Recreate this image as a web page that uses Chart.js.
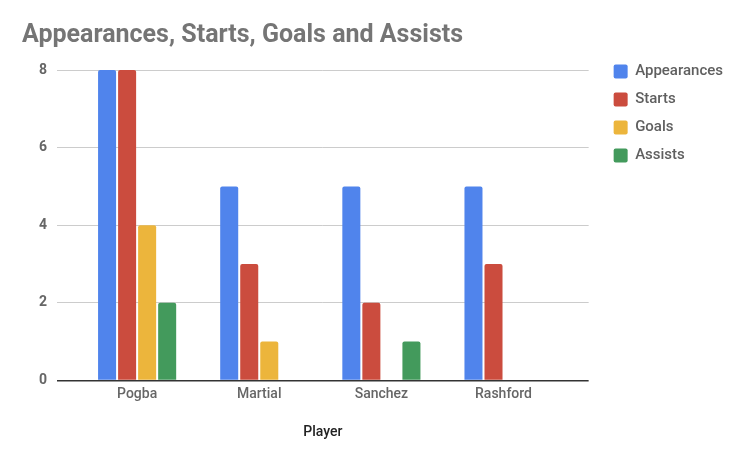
<!DOCTYPE html>
<html>
<head>
<meta charset="utf-8">
<script src="https://cdn.jsdelivr.net/npm/chart.js@4"></script>
<style>
  html, body { margin: 0; padding: 0; background: #fff; }
  canvas { display: block; }
</style>
</head>
<body>
<canvas id="chart" width="733" height="455"></canvas>
<script>
  // Data
  const players = ["Pogba", "Martial", "Sanchez", "Rashford"];
  const appearances = [8, 5, 5, 5];
  const starts = [8, 3, 2, 3];
  const goals = [4, 1, 0, 0];
  const assists = [2, 0, 1, 0];
  const yTicks = [0, 2, 4, 6, 8];

  const colors = ["#5084ec", "#cb4c3e", "#ecb53c", "#439a5c"];

  const series = [
    { label: "Appearances", data: appearances },
    { label: "Starts", data: starts },
    { label: "Goals", data: goals },
    { label: "Assists", data: assists }
  ];

  // only the stock plugins, no value labels on the bars
  const stock = ["colors", "decimation", "filler", "legend", "subtitle", "title", "tooltip"];
  Object.values(Chart.registry.plugins.items || {}).forEach(p => {
    if (p && p.id && !stock.includes(p.id)) Chart.unregister(p);
  });

  const lineColor = (c) => (c.tick && c.tick.value === 0 ? "#333333" : "#cccccc");
  const lineW = (c) => (c.tick && c.tick.value === 0 ? 1.5 : 1);

  // move the right-hand legend so its first row sits level with the top gridline
  const legendNudge = {
    id: "legendNudge",
    afterLayout(chart) {
      const lg = chart.legend;
      if (!lg) return;
      lg.top -= 19; lg.bottom -= 19;
      lg.left += 12; lg.right += 12;
    }
  };

  new Chart(document.getElementById("chart"), {
    type: "bar",
    data: {
      datasets: series.map((s, i) => ({
        label: s.label,
        data: s.data.map((v, j) => ({ x: j, y: v })),
        backgroundColor: colors[i],
        borderWidth: 0,
        borderRadius: 2,
        categoryPercentage: 0.656,
        barPercentage: 0.9
      }))
    },
    options: {
      responsive: false,
      animation: false,
      layout: { padding: { left: 22, right: 12, top: 0, bottom: 10 } },
      plugins: {
        datalabels: false,
        title: {
          display: true,
          text: "Appearances, Starts, Goals and Assists",
          align: "start",
          color: "#757575",
          font: { family: "Roboto", size: 25, weight: "bold" },
          padding: { top: 21, bottom: 19 }
        },
        legend: {
          position: "right",
          align: "start",
          fullSize: false,
          labels: {
            color: "#5f5f5f",
            font: { family: "Roboto", size: 15, weight: "500" },
            boxWidth: 14,
            boxHeight: 14,
            padding: 13,
            useBorderRadius: true,
            borderRadius: 2
          }
        },
        tooltip: { enabled: false }
      },
      scales: {
        x: {
          type: "linear",
          offset: false,
          min: -0.656,
          max: 3.697,
          afterBuildTicks: (axis) => { axis.ticks = players.map((_, j) => ({ value: j })); },
          grid: { display: false },
          border: { display: false },
          ticks: {
            color: "#666666",
            font: { family: "Roboto", size: 14, weight: "500" },
            padding: -2,
            autoSkip: false,
            maxRotation: 0,
            callback: (v) => players[v]
          },
          title: {
            display: true,
            text: "Player",
            color: "#222222",
            font: { family: "Roboto", size: 14, weight: "500" },
            padding: { top: 23 }
          }
        },
        y: {
          min: 0,
          max: 8,
          afterBuildTicks: (axis) => { axis.ticks = yTicks.map(v => ({ value: v })); },
          afterFit: (axis) => { axis.width = 35; },
          grid: { color: lineColor, lineWidth: lineW, drawTicks: false },
          border: { display: false },
          ticks: {
            color: "#666666",
            font: { family: "Roboto", size: 14, weight: "bold" },
            padding: 10
          }
        }
      }
    },
    plugins: [legendNudge]
  });
</script>
</body>
</html>
